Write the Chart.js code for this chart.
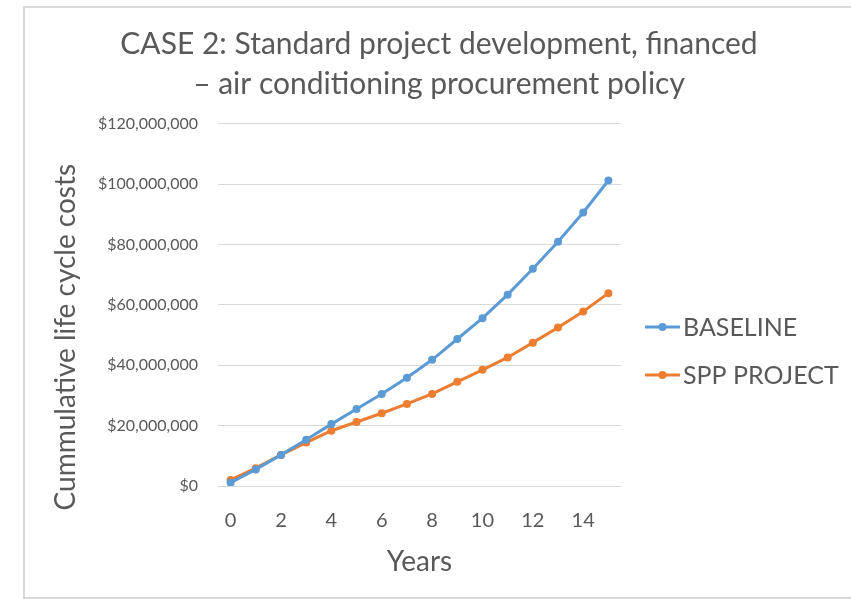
<!DOCTYPE html>
<html lang="en">

<head>
  <meta charset="UTF-8">
  <script src="https://cdn.jsdelivr.net/npm/chart.js"></script>
  <title>CASE 2 life cycle costs</title>
  <style>
    body { margin: 0; background: #fff; }
    #wrap { width: 851px; height: 599px; }
  </style>
</head>

<body>
  <div id="wrap">
    <canvas id="canvas_grafico" width="851" height="599"></canvas>
  </div>

  <script>
    // data
    const anos = ['0', '1', '2', '3', '4', '5', '6', '7', '8', '9', '10', '11', '12', '13', '14', '15'];
    const baseline = [1100000, 5500000, 10300000, 15300000, 20500000, 25500000, 30500000, 35900000,
      41800000, 48700000, 55600000, 63400000, 72000000, 80900000, 90600000, 101200000];
    const sppProject = [2000000, 5900000, 10300000, 14400000, 18300000, 21200000, 24100000, 27200000,
      30500000, 34500000, 38500000, 42600000, 47500000, 52500000, 57800000, 63900000];
    const nomes = ['BASELINE', 'SPP PROJECT'];
    const cores = ['#5B9BD5', '#ED7D31'];

    const cinza = '#595959';
    const fonte = 'Lato, "Open Sans", sans-serif';

    // frame round the chart (light grey, like the pasted Excel object)
    const moldura = {
      id: 'moldura',
      beforeDraw(chart) {
        const ctx = chart.ctx;
        ctx.save();
        ctx.strokeStyle = '#d9d9d9';
        ctx.lineWidth = 2;
        ctx.beginPath();
        ctx.moveTo(851, 7); ctx.lineTo(24, 7); ctx.lineTo(24, 598); ctx.lineTo(851, 598);
        ctx.stroke();
        ctx.restore();
      }
    };

    // legend on the right: line + dot + name, Excel style
    const legenda = {
      id: 'legenda',
      afterDraw(chart) {
        const ctx = chart.ctx;
        const area = chart.chartArea;
        const x0 = area.right + 24;
        const y0 = (area.top + area.bottom) / 2 + 22;
        ctx.save();
        ctx.font = '25px ' + fonte;
        ctx.textBaseline = 'middle';
        ctx.textAlign = 'left';
        chart.data.datasets.forEach((ds, i) => {
          const y = y0 + i * 48;
          ctx.strokeStyle = ds.borderColor;
          ctx.lineWidth = 3;
          ctx.beginPath();
          ctx.moveTo(x0, y);
          ctx.lineTo(x0 + 35, y);
          ctx.stroke();
          ctx.fillStyle = ds.borderColor;
          ctx.beginPath();
          ctx.arc(x0 + 17.5, y, 4, 0, Math.PI * 2);
          ctx.fill();
          ctx.fillStyle = cinza;
          ctx.fillText(ds.label, x0 + 38, y + 1);
        });
        ctx.restore();
      }
    };

    const dados = {
      labels: anos,
      datasets: [
        { label: nomes[0], data: baseline, borderColor: cores[0], backgroundColor: cores[0] },
        { label: nomes[1], data: sppProject, borderColor: cores[1], backgroundColor: cores[1] }
      ]
    };

    new Chart(document.getElementById('canvas_grafico').getContext('2d'), {
      type: 'line',
      data: dados,
      plugins: [moldura, legenda],
      options: {
        responsive: false,
        animation: false,
        layout: { padding: { top: 0, left: 27, right: 0, bottom: 13 } },
        elements: {
          line: { borderWidth: 3, tension: 0 },
          point: { radius: 4, hoverRadius: 4, borderWidth: 0 }
        },
        plugins: {
          title: {
            display: true,
            text: ['CASE 2: Standard project development, financed', '\u2013 air conditioning procurement policy'],
            color: cinza,
            font: { family: fonte, size: 30, weight: 'normal', lineHeight: 1.33 },
            padding: { top: 24, bottom: 20 }
          },
          legend: { display: false },
          tooltip: { enabled: false }
        },
        scales: {
          x: {
            offset: true,
            grid: { display: false, drawTicks: false },
            border: { display: false },
            ticks: {
              autoSkip: false,
              maxRotation: 0,
              padding: 23,
              color: cinza,
              font: { family: fonte, size: 20 },
              callback: (v, i) => (i % 2 === 0 ? anos[i] : '')
            },
            title: {
              display: true,
              text: 'Years',
              color: cinza,
              font: { family: fonte, size: 28, lineHeight: 1.2 },
              padding: { top: 0, bottom: 7 }
            },
            afterFit: (s) => { s.height = 100; }
          },
          y: {
            min: 0,
            max: 120000000,
            grid: { color: '#d9d9d9', lineWidth: 1, drawTicks: false },
            border: { display: false },
            ticks: {
              stepSize: 20000000,
              padding: 20,
              color: cinza,
              font: { family: fonte, size: 16 },
              callback: (v) => '$' + v.toLocaleString('en-US')
            },
            title: {
              display: true,
              // trailing spaces push the visible text down, as in the original
              text: 'Cummulative life cycle costs         ',
              color: cinza,
              font: { family: fonte, size: 28, lineHeight: 1.2 },
              padding: { top: 22, bottom: 0 }
            },
            afterFit: (s) => { s.width = 191; }
          },
          // empty axis on the right that keeps room for the legend
          espacoLegenda: {
            type: 'linear',
            position: 'right',
            grid: { display: false, drawTicks: false },
            border: { display: false },
            ticks: { display: false },
            afterFit: (s) => { s.width = 230; }
          }
        }
      }
    });
  </script>
</body>

</html>
